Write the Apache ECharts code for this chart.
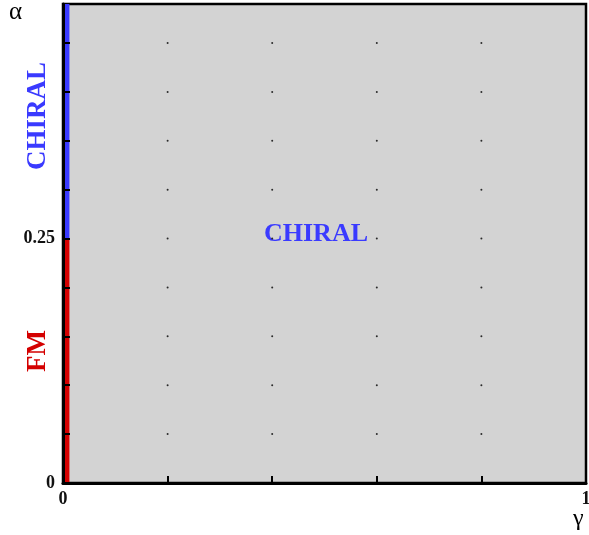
<!DOCTYPE html>
<html><head><meta charset="utf-8">
<script src="https://cdn.jsdelivr.net/npm/echarts@6/dist/echarts.min.js"></script>
<style>html,body{margin:0;padding:0;background:#fff}#c{width:589px;height:535px}</style>
</head><body><div id="c"></div>
<script>
// Phase boundaries drawn just inside gamma = 0
const boundaryGamma = 0.0075;
const fmAlpha = [0, 0.25];
const chiralAlpha = [0.25, 0.49];
// Axis ranges / ticks
const xMin = 0, xMax = 1, xInterval = 0.2;
const yMin = 0, yMax = 0.49, yInterval = 0.05;
const xTickLabels = ['0', '1'];
const yTickLabels = ['0', '0.25'];
// Grid dots at interior tick intersections
const dotX = [0.2, 0.4, 0.6, 0.8];
const dotY = [0.05, 0.10, 0.15, 0.20, 0.25, 0.30, 0.35, 0.40, 0.45];
const dots = [];
dotX.forEach(x => dotY.forEach(y => dots.push([x, y])));

const serif = '"Liberation Serif","DejaVu Serif",serif';
const blue = '#3a3aff', red = '#d40000';
const chart = echarts.init(document.getElementById('c'));
chart.setOption({
  animation: false,
  grid: {left: 63, top: 4, right: 3, bottom: 52, outerBoundsMode: 'none', containLabel: false,
         show: true, backgroundColor: '#d3d3d3', borderColor: '#000', borderWidth: 2.5},
  xAxis: {
    type: 'value', min: xMin, max: xMax, interval: xInterval, z: 5,
    axisLine: {show: true, lineStyle: {color: '#000', width: 3}},
    axisTick: {show: true, inside: true, length: 7, lineStyle: {color: '#000', width: 2}},
    splitLine: {show: false},
    axisLabel: {margin: 7, color: '#111', fontFamily: serif, fontWeight: 'bold', fontSize: 18,
      formatter: v => { const s = String(+v.toFixed(2)); return xTickLabels.includes(s) ? s : ''; }}
  },
  yAxis: {
    type: 'value', min: yMin, max: yMax, interval: yInterval, z: 5,
    axisLine: {show: true, lineStyle: {color: '#000', width: 3}},
    axisTick: {show: true, inside: true, length: 7, lineStyle: {color: '#000', width: 2}},
    splitLine: {show: false},
    axisLabel: {margin: 8, color: '#111', fontFamily: serif, fontWeight: 'bold', fontSize: 18,
      showMaxLabel: false,
      formatter: v => { const s = String(+v.toFixed(2)); return yTickLabels.includes(s) ? s : ''; }}
  },
  series: [
    {type: 'scatter', data: dots, symbolSize: 2, itemStyle: {color: '#000'}, silent: true},
    {type: 'line', data: fmAlpha.map(a => [boundaryGamma, a]), symbol: 'none', lineStyle: {color: red, width: 5, cap: 'butt'}},
    {type: 'line', data: chiralAlpha.map(a => [boundaryGamma, a]), symbol: 'none', lineStyle: {color: blue, width: 5, cap: 'butt'}}
  ],
  graphic: [
    {type: 'text', left: 9, top: 0, style: {text: 'α', font: '25px ' + serif, fill: '#000'}},
    {type: 'text', left: 573, top: 507, style: {text: 'γ', font: '24px ' + serif, fill: '#000'}},
    {type: 'text', x: 316, y: 234, style: {text: 'CHIRAL', font: 'bold 26px ' + serif, fill: blue, align: 'center', verticalAlign: 'middle'}},
    {type: 'text', x: 38, y: 116, rotation: Math.PI / 2, style: {text: 'CHIRAL', font: 'bold 27px ' + serif, fill: blue, align: 'center', verticalAlign: 'middle'}},
    {type: 'text', x: 38, y: 351, rotation: Math.PI / 2, style: {text: 'FM', font: 'bold 27px ' + serif, fill: red, align: 'center', verticalAlign: 'middle'}}
  ]
});
</script></body></html>
